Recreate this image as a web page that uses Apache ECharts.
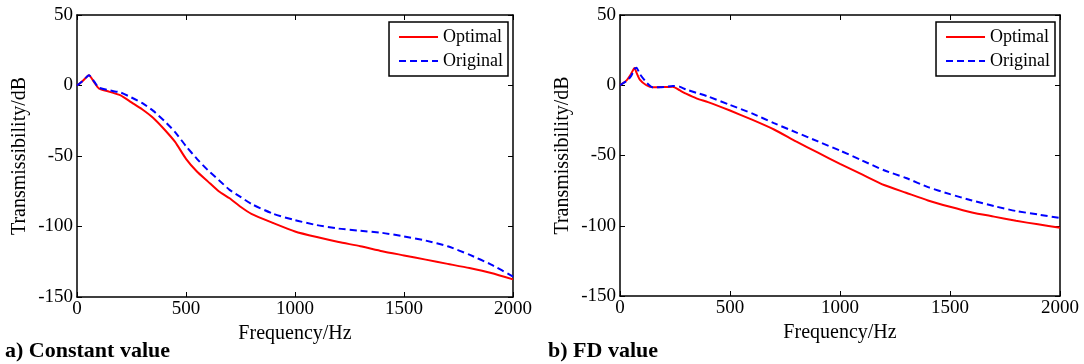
<!DOCTYPE html>
<html lang="en">
<head>
    <meta charset="UTF-8">
    <script src="https://cdn.jsdelivr.net/npm/echarts@6.0.0/dist/echarts.min.js"></script>
    <title>Transmissibility</title>
    <style>
        html, body { margin: 0; padding: 0; background: #fff; }
        #chart { width: 1084px; height: 364px; }
    </style>
</head>
<body>
    <div id="chart"></div>
    <script>
        // a) constant value
        const freqA = [0, 25, 55, 80, 100, 150, 200, 250, 300, 350, 400, 450, 500, 550, 600, 650, 700, 750, 800, 900,
            1000, 1100, 1200, 1300, 1400, 1500, 1600, 1700, 1800, 1900, 2000];
        const optimalA = [0, 3, 7.3, 2, -2, -4.5, -7, -12, -17, -23, -31, -40, -52, -61, -68, -75, -80, -86, -91, -97.5,
            -103.5, -107.5, -111, -114, -117.5, -120.5, -123.5, -126.5, -129.5, -133, -137.5];
        const originalA = [0, 3, 7.3, 2.5, -1.5, -3.5, -5, -8.5, -12.5, -18, -25, -33, -43, -52, -60, -67, -74, -79, -84, -91,
            -95.5, -99, -101.5, -103, -104.5, -107, -110, -114, -120, -127, -135.5];

        // b) FD value
        const freqB = [0, 30, 50, 66, 75, 90, 120, 150, 200, 240, 270, 300, 350, 400, 500, 600, 700, 800, 900,
            1000, 1100, 1200, 1300, 1400, 1500, 1600, 1700, 1800, 1900, 2000];
        const optimalB = [0, 3.5, 8, 12.3, 9, 4, 0, -1.5, -1.2, -1, -3.5, -6, -9.5, -12, -18, -24.5, -31.5, -40, -48,
            -56, -63.5, -71, -76.5, -82, -86.5, -90.5, -93.5, -96.5, -99, -101.5];
        const originalB = [0, 3, 6.5, 11.5, 12.5, 8, 2, -1.5, -1.2, -0.5, -1, -3, -5.5, -8, -14, -20, -27, -33.5, -40,
            -46.5, -53.5, -60.5, -66, -72.5, -77.5, -82, -86, -89.5, -92, -94.5];

        const xTicks = [0, 500, 1000, 1500, 2000];
        const yTicks = [50, 0, -50, -100, -150];

        const FONT = '"Liberation Serif", "DejaVu Serif", serif';
        const pairs = (xs, ys) => xs.map((x, i) => [x, ys[i]]);

        const grids = [
            { left: 77, right: 571, top: 15, bottom: 67 },
            { left: 620, right: 24, top: 15, bottom: 68 }
        ];

        const line = { onZero: false, lineStyle: { color: '#000', width: 1.5 } };
        const tick = { show: true, inside: true, length: 5, lineStyle: { color: '#000' } };

        const xAxes = [];
        const yAxes = [];
        grids.forEach((g, i) => {
            xAxes.push({
                type: 'value', gridIndex: i, min: xTicks[0], max: xTicks[xTicks.length - 1], interval: 500,
                name: 'Frequency/Hz', nameLocation: 'middle', nameGap: 24,
                nameTextStyle: { fontFamily: FONT, fontSize: 20, color: '#000' },
                axisLine: line, axisTick: tick,
                axisLabel: { fontFamily: FONT, fontSize: 19, color: '#000', margin: 3, formatter: v => String(v) },
                splitLine: { show: false }
            });
            xAxes.push({
                type: 'value', gridIndex: i, position: 'top', min: 0, max: 2000, interval: 500,
                axisLine: line, axisTick: tick,
                axisLabel: { show: false }, splitLine: { show: false }
            });
            yAxes.push({
                type: 'value', gridIndex: i, min: yTicks[yTicks.length - 1], max: yTicks[0], interval: 50,
                name: 'Transmissibility/dB', nameLocation: 'middle', nameGap: 47,
                nameTextStyle: { fontFamily: FONT, fontSize: 20, color: '#000' },
                axisLine: Object.assign({ show: true }, line), axisTick: tick,
                axisLabel: { fontFamily: FONT, fontSize: 19, color: '#000', margin: 4 },
                splitLine: { show: false }
            });
            yAxes.push({
                type: 'value', gridIndex: i, position: 'right', min: -150, max: 50, interval: 50,
                axisLine: Object.assign({ show: true }, line), axisTick: tick,
                axisLabel: { show: false }, splitLine: { show: false }
            });
        });

        const mkSeries = (name, data, gi, dashed) => ({
            name: name, type: 'line', xAxisIndex: gi * 2, yAxisIndex: gi * 2,
            data: data, showSymbol: false, symbol: 'none', smooth: 0.2,
            lineStyle: dashed ? { color: '#0000ff', width: 2, type: [7, 4] } : { color: '#ff0000', width: 2 },
            itemStyle: { color: dashed ? '#0000ff' : '#ff0000' },
            z: dashed ? 3 : 2
        });

        const legendBase = {
            orient: 'vertical', data: ['Optimal', 'Original'],
            borderColor: '#000', borderWidth: 1.5, borderRadius: 0,
            padding: [6, 5, 6, 9], itemGap: 6, itemWidth: 39, itemHeight: 18,
            itemStyle: { opacity: 0 },
            textStyle: { fontFamily: FONT, fontSize: 18, color: '#000' },
            selectedMode: false
        };

        const chart = echarts.init(document.getElementById('chart'), null, { renderer: 'canvas' });
        chart.setOption({
            backgroundColor: '#fff',
            animation: false,
            grid: grids,
            xAxis: xAxes,
            yAxis: yAxes,
            legend: [
                Object.assign({}, legendBase, { right: 576, top: 22 }),
                Object.assign({}, legendBase, { right: 29, top: 22 })
            ],
            series: [
                mkSeries('Optimal', pairs(freqA, optimalA), 0, false),
                mkSeries('Original', pairs(freqA, originalA), 0, true),
                mkSeries('Optimal', pairs(freqB, optimalB), 1, false),
                mkSeries('Original', pairs(freqB, originalB), 1, true)
            ],
            graphic: [
                { type: 'text', left: 5, top: 340, style: { text: 'a) Constant value', font: 'bold 22px ' + FONT, fill: '#000' } },
                { type: 'text', left: 548, top: 340, style: { text: 'b) FD value', font: 'bold 22px ' + FONT, fill: '#000' } }
            ]
        });
    </script>
</body>
</html>
